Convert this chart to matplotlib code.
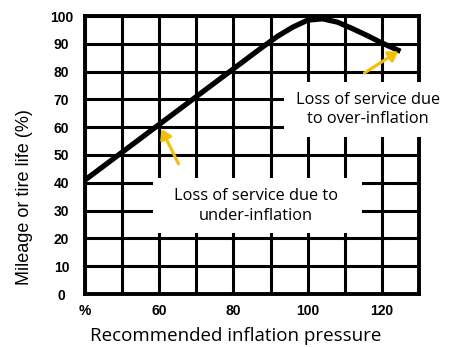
import matplotlib
matplotlib.use("Agg")
import matplotlib.pyplot as plt
from matplotlib.patches import Rectangle
import numpy as np

# Tire life versus inflation pressure
pressure = [40, 50, 60, 70, 80, 88, 92, 96, 100, 104, 108, 112, 116, 120, 125]
life = [41, 51, 61, 71, 81, 89, 92.8, 96, 98.5, 99, 97.8, 95.5, 93, 90.3, 87.3]

x_ticks = [40, 60, 80, 100, 120]
x_tick_labels = ["%", "60", "80", "100", "120"]
y_ticks = [0, 10, 20, 30, 40, 50, 60, 70, 80, 90, 100]

under_text = "Loss of service due to\nunder-inflation"
over_text = "Loss of service due\nto over-inflation"

fig = plt.figure(figsize=(4.53, 3.47), dpi=100)
ax = fig.add_axes([85 / 453, 1 - 294 / 347, (419 - 85) / 453, (294 - 16) / 347])

ax.set_xlim(40, 130)
ax.set_ylim(0, 100)
ax.set_xticks(np.arange(40, 131, 10), minor=True)
ax.set_xticks(x_ticks)
ax.set_xticklabels(x_tick_labels)
ax.set_yticks(y_ticks)
ax.grid(True, which="both", color="black", linewidth=2.2)
ax.set_axisbelow(True)
for s in ax.spines.values():
    s.set_linewidth(2.8)
ax.tick_params(axis="x", which="both", length=0, pad=7)
ax.tick_params(axis="y", which="both", length=0, pad=0)
for lbl in ax.get_xticklabels() + ax.get_yticklabels():
    lbl.set_fontfamily("Liberation Sans")
    lbl.set_fontweight("bold")
    lbl.set_fontsize(10)
# y tick labels centred in a column left of the frame
for lbl in ax.get_yticklabels():
    lbl.set_horizontalalignment("center")
    lbl.set_x(-0.07)

ax.plot(pressure, life, color="black", linewidth=3.8, solid_capstyle="butt", zorder=5)

# White panels behind the two callouts
ax.add_patch(Rectangle((58.3, 21.9), 56.3, 19.8, facecolor="white",
                       edgecolor="none", zorder=4))
ax.add_patch(Rectangle((93.5, 56.5), 45, 19.8, facecolor="white",
                       edgecolor="none", zorder=4, clip_on=False))
ax.text(86, 31.6, under_text, ha="center", va="center", fontsize=11.8,
        family="Open Sans", linespacing=1.3, zorder=6)
ax.text(116.3, 66.2, over_text, ha="center", va="center", fontsize=11.8,
        family="Open Sans", linespacing=1.25, zorder=6)

arrow = dict(arrowstyle="-|>,head_length=0.55,head_width=0.35", color="#F5BE00",
             lw=2.2, shrinkA=0, shrinkB=0)
ax.annotate("", xy=(60.6, 59.3), xytext=(65.2, 46.8), arrowprops=arrow, zorder=7)
ax.annotate("", xy=(124.4, 87.3), xytext=(115.3, 79.5), arrowprops=arrow, zorder=7)

ax.set_xlabel("Recommended inflation pressure", family="Open Sans", fontsize=13.5)
ax.xaxis.set_label_coords(0.452, -0.117)
ax.set_ylabel("Mileage or tire life (%)", family="Liberation Sans", fontsize=13)
ax.yaxis.set_label_coords(-0.155, 0.35)

fig.savefig("out.png", dpi=100)
